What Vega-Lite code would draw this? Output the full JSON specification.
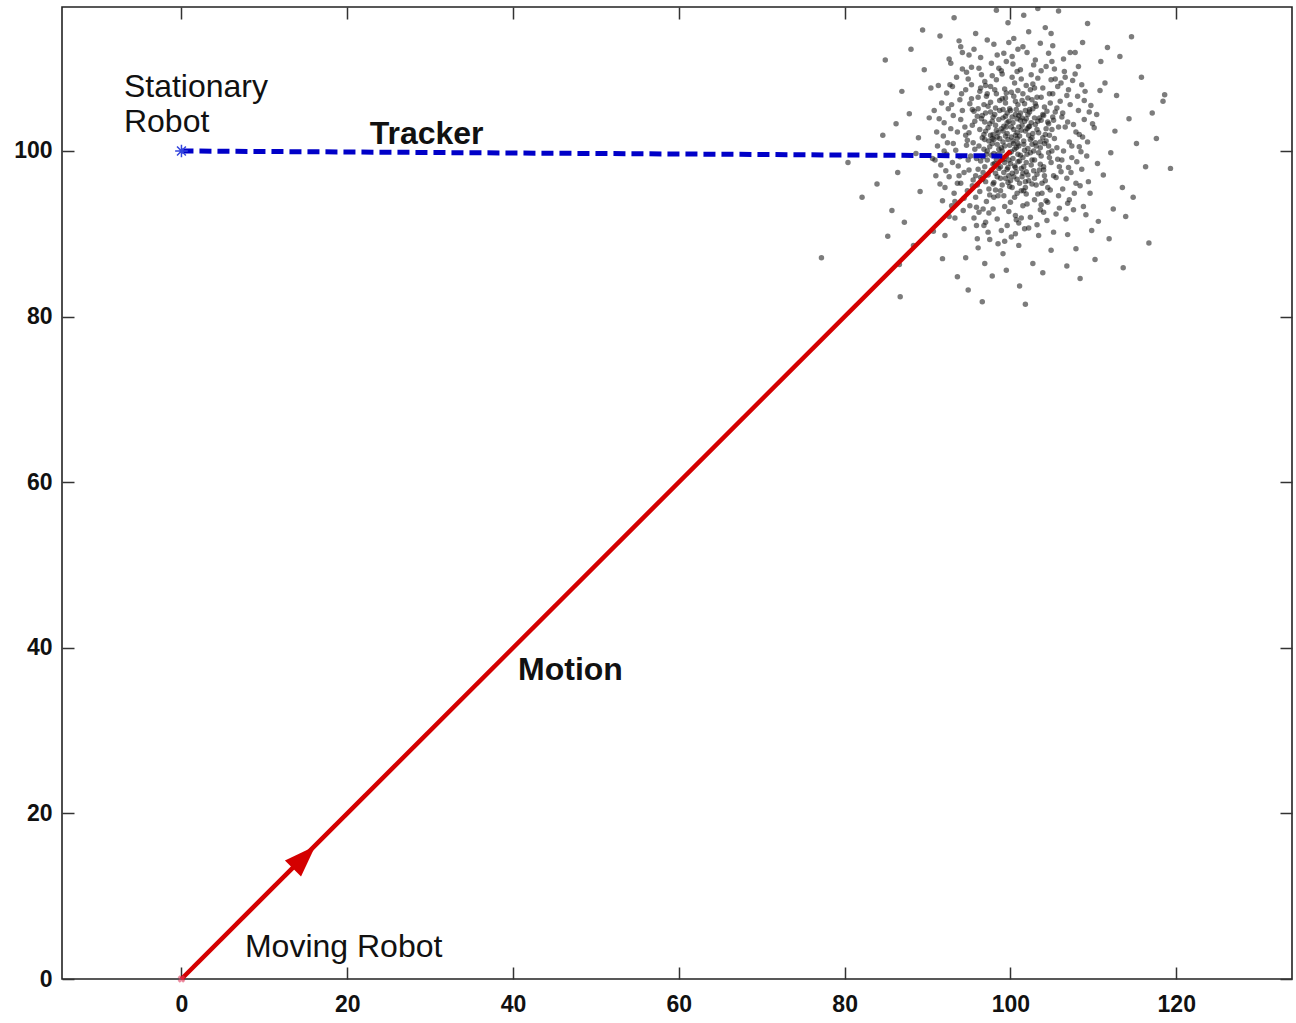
{
  "$schema": "https://vega.github.io/schema/vega-lite/v6.json",
  "width": 1230,
  "height": 972,
  "autosize": {"type": "none"},
  "padding": {"left": 62, "top": 7, "right": 4, "bottom": 44},
  "background": "white",
  "config": {
    "view": {"stroke": "#222", "strokeWidth": 1.6},
    "axis": {
      "domain": false, "grid": false, "ticks": true, "tickSize": -12, "tickColor": "#333", "tickWidth": 1.5,
      "labelFont": "Liberation Sans", "labelFontSize": 23, "labelFontWeight": "bold", "labelColor": "#111", "title": null
    },
    "text": {"font": "Liberation Sans", "fontSize": 32, "color": "#111", "align": "left", "baseline": "alphabetic"}
  },
  "resolve": {"axis": {"x": "independent", "y": "independent"}},
  "layer": [
    {
      "data": {"values": [
        {"x":100.3,"y":101.2},{"x":99.1,"y":102.4},{"x":101.7,"y":100.1},{"x":98.4,"y":100.8},{"x":102.2,"y":102.9},{"x":100.9,"y":98.7},{"x":97.6,"y":101.9},{"x":99.8,"y":103.6},{"x":101.4,"y":103.1},{"x":103.1,"y":100.6},
        {"x":98.9,"y":99.3},{"x":100.1,"y":99.9},{"x":102.6,"y":98.9},{"x":97.9,"y":98.4},{"x":99.4,"y":104.2},{"x":101.1,"y":101.8},{"x":103.4,"y":102.2},{"x":98.2,"y":103.1},{"x":100.6,"y":104.4},{"x":96.8,"y":100.2},
        {"x":102.9,"y":104.0},{"x":99.6,"y":97.8},{"x":101.9,"y":97.5},{"x":97.3,"y":102.8},{"x":100.4,"y":102.6},{"x":98.7,"y":101.5},{"x":103.7,"y":99.4},{"x":99.9,"y":100.7},{"x":101.5,"y":99.2},{"x":97.1,"y":99.6},
        {"x":102.4,"y":101.4},{"x":98.6,"y":97.9},{"x":100.8,"y":103.9},{"x":96.9,"y":103.5},{"x":103.9,"y":101.6},{"x":99.3,"y":98.6},{"x":101.2,"y":104.6},{"x":98.1,"y":104.4},{"x":102.8,"y":97.6},{"x":100.2,"y":97.3},
        {"x":97.7,"y":97.7},{"x":103.3,"y":103.6},{"x":99.0,"y":100.0},{"x":101.8,"y":102.4},{"x":98.5,"y":102.2},{"x":100.7,"y":100.4},{"x":102.1,"y":100.3},{"x":99.7,"y":101.4},{"x":101.3,"y":97.9},{"x":97.4,"y":101.2},
        {"x":104.1,"y":100.9},{"x":100.0,"y":104.9},{"x":98.3,"y":99.0},{"x":102.5,"y":103.4},{"x":99.5,"y":99.4},{"x":101.0,"y":102.9},{"x":97.9,"y":104.1},{"x":103.6,"y":98.4},{"x":100.5,"y":98.2},{"x":96.6,"y":101.6},
        {"x":99.2,"y":103.0},{"x":102.0,"y":99.6},{"x":98.8,"y":98.1},{"x":101.6,"y":101.2},{"x":100.9,"y":100.9},{"x":97.5,"y":100.5},{"x":103.0,"y":101.0},{"x":99.6,"y":102.1},{"x":101.4,"y":104.0},{"x":98.0,"y":101.4},
        {"x":102.7,"y":102.1},{"x":100.3,"y":99.1},{"x":99.8,"y":98.9},{"x":96.4,"y":98.8},{"x":104.3,"y":102.7},{"x":101.9,"y":98.6},{"x":98.4,"y":96.9},{"x":100.8,"y":96.6},{"x":103.2,"y":97.2},{"x":97.0,"y":104.6},
        {"x":102.3,"y":104.7},{"x":99.1,"y":105.0},{"x":96.7,"y":97.4},{"x":104.0,"y":104.3},{"x":100.1,"y":101.7},{"x":101.7,"y":103.6},{"x":98.9,"y":100.4},{"x":102.6,"y":100.8},{"x":99.4,"y":96.7},{"x":97.8,"y":103.6},
        {"x":100.6,"y":101.9},{"x":99.3,"y":100.6},{"x":101.2,"y":99.5},{"x":98.6,"y":103.8},{"x":102.4,"y":99.8},{"x":97.8,"y":100.9},{"x":100.9,"y":105.6},{"x":99.7,"y":96.2},{"x":103.6,"y":101.1},{"x":96.3,"y":102.6},
        {"x":101.8,"y":104.9},{"x":98.2,"y":97.3},{"x":104.6,"y":103.3},{"x":95.7,"y":100.2},{"x":100.2,"y":95.6},{"x":102.9,"y":96.7},{"x":97.2,"y":98.9},{"x":99.0,"y":106.3},{"x":104.9,"y":98.6},{"x":96.1,"y":97.8},
        {"x":101.5,"y":106.9},{"x":98.8,"y":95.2},{"x":103.1,"y":105.4},{"x":95.4,"y":103.1},{"x":100.5,"y":100.2},{"x":102.2,"y":101.9},{"x":99.4,"y":101.8},{"x":97.5,"y":103.3},{"x":101.1,"y":96.1},{"x":105.3,"y":101.5},
        {"x":96.8,"y":105.6},{"x":103.8,"y":96.1},{"x":99.9,"y":105.1},{"x":94.9,"y":98.9},{"x":102.6,"y":106.2},{"x":98.0,"y":99.7},{"x":100.7,"y":97.5},{"x":104.4,"y":104.8},{"x":97.0,"y":96.3},{"x":101.6,"y":98.1},
        {"x":99.2,"y":99.0},{"x":95.6,"y":104.8},{"x":103.4,"y":99.8},{"x":100.1,"y":107.1},{"x":98.5,"y":94.6},{"x":105.8,"y":102.9},{"x":96.9,"y":101.4},{"x":102.1,"y":97.1},{"x":99.6,"y":104.6},{"x":101.3,"y":102.5},
        {"x":97.6,"y":105.9},{"x":104.1,"y":97.0},{"x":100.4,"y":96.9},{"x":95.9,"y":99.1},{"x":103.0,"y":103.2},{"x":98.3,"y":106.9},{"x":101.9,"y":94.8},{"x":96.5,"y":103.9},{"x":105.1,"y":104.1},{"x":99.5,"y":102.9},
        {"x":102.8,"y":100.0},{"x":97.3,"y":97.1},{"x":100.8,"y":102.2},{"x":94.6,"y":101.9},{"x":103.7,"y":106.5},{"x":98.9,"y":102.7},{"x":101.0,"y":100.6},{"x":96.0,"y":95.9},{"x":104.7,"y":99.2},{"x":99.8,"y":97.0},
        {"x":102.3,"y":103.0},{"x":97.9,"y":102.0},{"x":100.0,"y":98.5},{"x":105.5,"y":96.8},{"x":95.3,"y":106.3},{"x":101.7,"y":105.7},{"x":98.1,"y":98.5},{"x":103.3,"y":94.8},{"x":99.1,"y":101.1},{"x":96.2,"y":100.6},
        {"x":102.5,"y":98.3},{"x":100.3,"y":103.4},{"x":97.4,"y":95.4},{"x":104.2,"y":102.0},{"x":98.7,"y":104.9},{"x":101.4,"y":96.9},{"x":95.0,"y":102.2},{"x":103.9,"y":104.4},{"x":100.6,"y":106.0},{"x":99.0,"y":95.9},
        {"x":102.0,"y":102.7},{"x":96.7,"y":99.3},{"x":105.0,"y":100.0},{"x":98.4,"y":101.7},{"x":101.2,"y":103.7},{"x":97.1,"y":106.6},{"x":103.5,"y":97.7},{"x":100.9,"y":99.6},{"x":99.3,"y":107.5},{"x":94.4,"y":97.4},
        {"x":102.7,"y":105.1},{"x":98.0,"y":96.2},{"x":101.6,"y":100.8},{"x":96.6,"y":104.3},{"x":104.5,"y":95.6},{"x":100.2,"y":104.1},{"x":97.7,"y":99.5},{"x":103.2,"y":102.6},{"x":99.7,"y":98.0},{"x":101.8,"y":95.6},
        {"x":95.8,"y":97.0},{"x":102.4,"y":107.4},{"x":98.6,"y":100.2},{"x":100.5,"y":94.4},{"x":104.8,"y":105.8},{"x":97.0,"y":102.4},{"x":101.1,"y":98.8},{"x":99.4,"y":105.8},{"x":96.4,"y":96.8},{"x":103.6,"y":100.4},
        {"x":100.8,"y":101.5},{"x":98.2,"y":105.2},{"x":102.1,"y":104.4},{"x":95.5,"y":101.0},{"x":104.0,"y":98.1},{"x":99.9,"y":99.8},{"x":101.5,"y":97.3},{"x":97.6,"y":104.7},{"x":100.1,"y":102.9},{"x":103.1,"y":95.9},
        {"x":98.5,"y":99.6},{"x":102.6,"y":101.6},{"x":96.9,"y":98.1},{"x":100.7,"y":105.0},{"x":99.2,"y":97.4},{"x":104.3,"y":101.2},{"x":97.2,"y":100.0},{"x":101.9,"y":103.9},{"x":98.8,"y":96.7},{"x":102.9,"y":98.9},
        {"x":100.4,"y":100.9},{"x":96.1,"y":105.1},{"x":103.7,"y":103.7},{"x":99.6,"y":103.4},{"x":101.3,"y":95.2},{"x":97.8,"y":101.5},{"x":105.2,"y":103.7},{"x":100.0,"y":96.4},{"x":98.3,"y":102.5},{"x":102.2,"y":96.4},
        {"x":99.1,"y":104.0},{"x":101.0,"y":104.3},{"x":96.8,"y":102.0},{"x":104.6,"y":100.6},{"x":100.6,"y":98.0},
        {"x":94.8,"y":101.3},{"x":105.6,"y":100.4},{"x":100.9,"y":107.3},{"x":99.2,"y":94.6},{"x":106.2,"y":104.1},{"x":93.7,"y":98.2},{"x":96.1,"y":106.5},{"x":104.8,"y":95.3},{"x":102.7,"y":108.1},{"x":95.4,"y":95.8},
        {"x":107.4,"y":99.2},{"x":92.8,"y":102.7},{"x":98.3,"y":108.6},{"x":105.1,"y":106.9},{"x":101.5,"y":93.4},{"x":94.2,"y":104.9},{"x":106.8,"y":96.7},{"x":97.1,"y":93.9},{"x":103.9,"y":107.6},{"x":93.4,"y":100.1},
        {"x":107.9,"y":102.3},{"x":100.2,"y":108.9},{"x":95.9,"y":93.2},{"x":104.5,"y":93.8},{"x":92.6,"y":96.9},{"x":108.3,"y":100.5},{"x":97.6,"y":107.8},{"x":106.1,"y":108.2},{"x":99.8,"y":92.7},{"x":94.6,"y":107.4},
        {"x":105.9,"y":98.1},{"x":102.1,"y":106.4},{"x":96.3,"y":95.1},{"x":93.1,"y":104.3},{"x":107.2,"y":105.6},{"x":98.7,"y":106.1},{"x":104.2,"y":96.4},{"x":95.2,"y":99.4},{"x":101.6,"y":95.2},{"x":106.6,"y":102.9},
        {"x":94.0,"y":96.1},{"x":103.3,"y":108.8},{"x":97.4,"y":92.5},{"x":108.6,"y":97.8},{"x":92.3,"y":99.6},{"x":105.4,"y":104.7},{"x":99.5,"y":107.0},{"x":95.7,"y":103.6},{"x":102.9,"y":94.1},{"x":107.0,"y":107.4},
        {"x":93.9,"y":106.2},{"x":100.6,"y":92.2},{"x":96.9,"y":108.4},{"x":104.7,"y":101.9},{"x":91.9,"y":101.8},{"x":108.9,"y":103.8},{"x":98.0,"y":94.4},{"x":105.8,"y":94.6},{"x":94.4,"y":94.3},{"x":101.9,"y":107.9},
        {"x":106.4,"y":100.0},{"x":97.2,"y":106.9},{"x":103.6,"y":92.9},{"x":92.5,"y":105.1},{"x":107.7,"y":94.9},{"x":99.0,"y":109.3},{"x":95.0,"y":97.7},{"x":104.9,"y":108.6},{"x":93.2,"y":94.9},{"x":102.4,"y":92.0},
        {"x":108.1,"y":106.6},{"x":96.5,"y":109.2},{"x":105.2,"y":97.0},{"x":91.6,"y":98.3},{"x":100.4,"y":106.6},{"x":94.9,"y":108.7},{"x":106.9,"y":93.7},{"x":98.4,"y":91.8},{"x":103.0,"y":105.7},{"x":93.6,"y":102.3},
        {"x":109.2,"y":99.4},{"x":101.2,"y":109.8},{"x":95.6,"y":91.9},{"x":107.5,"y":108.5},{"x":97.9,"y":96.0},{"x":105.0,"y":102.6},{"x":92.1,"y":95.6},{"x":102.6,"y":96.0},{"x":96.0,"y":104.2},{"x":108.4,"y":95.8},
        {"x":99.3,"y":93.3},{"x":104.1,"y":105.3},{"x":94.3,"y":92.8},{"x":106.0,"y":106.0},{"x":100.8,"y":94.9},{"x":93.0,"y":107.8},{"x":107.1,"y":101.1},{"x":97.0,"y":91.4},{"x":103.7,"y":109.7},{"x":91.4,"y":103.9},
        {"x":105.5,"y":92.4},{"x":98.6,"y":110.0},{"x":94.7,"y":100.7},{"x":109.5,"y":104.7},{"x":101.0,"y":91.3},{"x":96.6,"y":96.6},{"x":106.5,"y":109.6},{"x":92.9,"y":93.4},{"x":102.3,"y":105.0},{"x":108.0,"y":98.7},
        {"x":95.3,"y":110.1},{"x":104.4,"y":91.6},{"x":99.9,"y":95.7},{"x":91.2,"y":100.6},{"x":106.3,"y":95.4},{"x":97.3,"y":105.4},{"x":103.5,"y":104.0},{"x":94.1,"y":106.9},{"x":108.7,"y":101.7},{"x":100.3,"y":110.5},
        {"x":96.2,"y":92.6},{"x":105.3,"y":109.9},{"x":92.2,"y":97.6},{"x":102.0,"y":93.6},{"x":107.3,"y":97.4},{"x":98.1,"y":107.4},{"x":93.5,"y":108.9},{"x":104.6,"y":99.8},{"x":95.8,"y":94.4},{"x":109.0,"y":107.2},
        {"x":101.4,"y":106.1},{"x":97.7,"y":110.6},{"x":106.7,"y":91.8},{"x":91.7,"y":105.8},{"x":103.2,"y":91.1},{"x":99.6,"y":91.0},{"x":94.5,"y":102.9},{"x":108.2,"y":104.9},{"x":96.4,"y":107.6},{"x":105.7,"y":107.8},
        {"x":92.4,"y":101.0},{"x":101.8,"y":96.3},{"x":107.6,"y":92.9},{"x":98.2,"y":95.3},{"x":93.8,"y":97.0},{"x":104.3,"y":110.2},{"x":100.0,"y":93.8},{"x":95.1,"y":105.7},{"x":106.9,"y":103.5},{"x":102.8,"y":110.4},
        {"x":97.5,"y":94.7},{"x":109.4,"y":96.3},{"x":91.0,"y":97.0},{"x":103.8,"y":94.9},{"x":99.4,"y":106.4},{"x":94.2,"y":109.9},{"x":105.6,"y":105.2},{"x":101.3,"y":108.7},{"x":96.8,"y":91.0},{"x":107.8,"y":109.3},
        {"x":92.7,"y":108.0},{"x":104.0,"y":97.7},{"x":98.9,"y":109.7},{"x":93.3,"y":93.9},{"x":106.2,"y":98.9},{"x":100.7,"y":91.7},{"x":95.5,"y":96.5},{"x":108.8,"y":93.3},
        {"x":93.1,"y":100.9},{"x":107.6,"y":103.2},{"x":99.5,"y":110.8},{"x":101.3,"y":91.9},{"x":94.8,"y":95.2},{"x":106.1,"y":97.5},{"x":97.8,"y":109.1},{"x":104.0,"y":92.6},{"x":92.0,"y":103.4},{"x":108.5,"y":99.9},
        {"x":96.4,"y":111.3},{"x":103.0,"y":111.0},{"x":95.1,"y":93.4},{"x":106.8,"y":106.7},{"x":98.9,"y":90.4},{"x":91.5,"y":96.0},{"x":109.3,"y":101.1},{"x":100.8,"y":109.6},{"x":93.3,"y":91.9},{"x":105.9,"y":93.1},
        {"x":97.3,"y":90.2},{"x":107.9,"y":96.1},{"x":94.7,"y":109.5},{"x":102.5,"y":109.2},{"x":91.1,"y":102.3},{"x":109.7,"y":105.5},{"x":99.2,"y":111.8},{"x":104.7,"y":106.9},{"x":93.9,"y":99.3},{"x":106.4,"y":111.1},
        {"x":96.7,"y":93.0},{"x":103.4,"y":89.8},{"x":92.3,"y":107.0},{"x":108.6,"y":108.0},{"x":100.1,"y":89.6},{"x":95.6,"y":112.3},{"x":105.2,"y":90.2},{"x":90.6,"y":99.1},{"x":110.1,"y":102.8},{"x":98.0,"y":112.9},
        {"x":102.9,"y":107.6},{"x":94.0,"y":103.8},{"x":107.1,"y":94.1},{"x":97.5,"y":89.3},{"x":104.6,"y":111.8},{"x":92.8,"y":110.6},{"x":109.6,"y":94.9},{"x":101.7,"y":90.6},{"x":95.3,"y":108.0},{"x":106.3,"y":104.6},
        {"x":93.6,"y":96.1},{"x":108.2,"y":110.2},{"x":99.8,"y":113.1},{"x":103.7,"y":93.5},{"x":91.8,"y":94.0},{"x":107.4,"y":100.6},{"x":96.2,"y":110.0},{"x":102.0,"y":111.9},{"x":94.4,"y":90.6},{"x":105.4,"y":108.7},
        {"x":98.5,"y":88.8},{"x":110.5,"y":98.5},{"x":100.5,"y":108.2},{"x":92.9,"y":105.6},{"x":106.9,"y":89.9},{"x":97.0,"y":107.9},{"x":104.3,"y":94.0},{"x":93.0,"y":98.6},{"x":108.9,"y":106.1},{"x":101.5,"y":112.6},
        {"x":95.9,"y":91.0},{"x":105.7,"y":99.0},{"x":90.8,"y":104.9},{"x":103.6,"y":113.0},{"x":99.3,"y":89.1},{"x":107.8,"y":111.9},{"x":94.2,"y":111.9},{"x":102.2,"y":90.7},{"x":109.9,"y":103.3},{"x":96.3,"y":107.2},
        {"x":105.0,"y":110.8},{"x":92.6,"y":92.1},{"x":100.2,"y":111.4},{"x":107.0,"y":98.0},{"x":97.9,"y":93.0},{"x":104.5,"y":103.5},{"x":91.3,"y":107.9},{"x":109.1,"y":92.3},{"x":101.0,"y":88.6},{"x":95.4,"y":105.0},
        {"x":106.6,"y":108.9},{"x":93.8,"y":113.3},{"x":103.2,"y":106.5},{"x":98.4,"y":111.6},{"x":108.3,"y":102.0},{"x":96.0,"y":89.4},{"x":104.9,"y":114.2},{"x":92.0,"y":100.0},{"x":110.8,"y":107.3},{"x":100.6,"y":90.0},
        {"x":88.9,"y":101.6},{"x":112.1,"y":99.8},{"x":100.4,"y":113.6},{"x":99.1,"y":87.6},{"x":89.6,"y":109.8},{"x":111.4,"y":108.2},{"x":90.7,"y":90.3},{"x":110.6,"y":91.5},{"x":86.4,"y":97.4},{"x":114.3,"y":103.9},
        {"x":104.2,"y":114.9},{"x":95.8,"y":114.2},{"x":102.7,"y":86.4},{"x":94.6,"y":87.1},{"x":87.8,"y":104.5},{"x":113.5,"y":95.6},{"x":108.7,"y":113.1},{"x":91.5,"y":113.9},{"x":107.9,"y":88.2},{"x":85.7,"y":92.8},
        {"x":115.2,"y":100.9},{"x":101.6,"y":116.4},{"x":97.8,"y":84.9},{"x":89.1,"y":95.1},{"x":112.8,"y":106.7},{"x":93.2,"y":116.1},{"x":110.2,"y":86.9},{"x":86.9,"y":107.2},{"x":116.3,"y":98.1},{"x":105.8,"y":116.9},
        {"x":96.1,"y":88.3},{"x":111.7,"y":112.5},{"x":88.3,"y":88.6},{"x":90.2,"y":104.0},{"x":113.9,"y":92.1},{"x":99.7,"y":115.5},{"x":103.9,"y":85.3},{"x":84.6,"y":101.9},{"x":117.1,"y":104.6},{"x":92.1,"y":89.8},
        {"x":109.3,"y":115.4},{"x":88.0,"y":112.3},{"x":111.9,"y":89.4},{"x":94.0,"y":112.6},{"x":106.8,"y":86.1},{"x":83.9,"y":96.0},{"x":115.8,"y":108.9},{"x":98.3,"y":117.0},{"x":101.1,"y":83.7},{"x":87.2,"y":91.4},
        {"x":112.6,"y":102.4},{"x":90.9,"y":98.9},{"x":110.9,"y":110.8},{"x":96.9,"y":86.4},{"x":105.1,"y":112.7},{"x":86.2,"y":103.3},{"x":114.8,"y":94.4},{"x":100.9,"y":112.3},{"x":93.6,"y":84.8},{"x":108.4,"y":84.6},
        {"x":89.4,"y":114.6},{"x":117.6,"y":101.5},{"x":103.3,"y":117.2},{"x":85.2,"y":89.7},{"x":111.2,"y":97.1},{"x":95.0,"y":111.6},{"x":107.2,"y":111.9},{"x":91.8,"y":87.0},{"x":113.2,"y":111.4},{"x":99.5,"y":85.6},
        {"x":88.6,"y":99.7},{"x":110.4,"y":104.4},{"x":97.2,"y":113.4},{"x":104.9,"y":88.0},{"x":82.1,"y":94.4},{"x":118.4,"y":106.0},{"x":92.6,"y":111.1},{"x":109.8,"y":90.4},{"x":86.6,"y":86.3},{"x":114.6,"y":113.8},
        {"x":102.2,"y":114.4},{"x":94.9,"y":83.2},{"x":90.4,"y":107.6},{"x":112.4,"y":93.0},{"x":77.2,"y":87.1},{"x":96.6,"y":81.8},{"x":101.8,"y":81.5},{"x":119.3,"y":97.9},{"x":105.5,"y":118.3},{"x":80.4,"y":98.6},
        {"x":116.7,"y":88.9},{"x":99.0,"y":118.6},{"x":108.1,"y":117.8},{"x":84.9,"y":111.0},{"x":113.6,"y":85.9},{"x":86.7,"y":82.4},{"x":118.6,"y":106.8}
      ]},
      "mark": {"type": "point", "filled": true, "size": 30, "color": "#111", "opacity": 0.55, "clip": true},
      "encoding": {
        "x": {"field": "x", "type": "quantitative", "scale": {"domain": [-14.41, 133.96], "nice": false, "zero": false},
              "axis": {"orient": "bottom", "values": [0, 20, 40, 60, 80, 100, 120], "labelPadding": 26}},
        "y": {"field": "y", "type": "quantitative", "scale": {"domain": [0, 117.39], "nice": false, "zero": false},
              "axis": {"orient": "left", "values": [0, 20, 40, 60, 80, 100], "labelPadding": 22}}
      }
    },
    {
      "data": {"values": [{"x": 0, "y": 0}, {"x": 100, "y": 100}]},
      "mark": {"type": "line", "color": "#d40000", "strokeWidth": 4.5},
      "encoding": {
        "x": {"field": "x", "type": "quantitative", "axis": {"orient": "top", "values": [0, 20, 40, 60, 80, 100, 120], "labels": false}},
        "y": {"field": "y", "type": "quantitative", "axis": {"orient": "right", "values": [0, 20, 40, 60, 80, 100], "labels": false}}
      }
    },
    {
      "data": {"values": [{"x": 0, "y": 100}, {"x": 99, "y": 99.4}]},
      "mark": {"type": "line", "color": "#0000c8", "strokeWidth": 5, "strokeDash": [12, 6]},
      "encoding": {
        "x": {"field": "x", "type": "quantitative", "axis": null},
        "y": {"field": "y", "type": "quantitative", "axis": null}
      }
    },
    {
      "data": {"values": [{"x": 14.8, "y": 14.7}]},
      "mark": {"type": "point", "shape": "M0,-1L-0.72,1L0.72,1Z", "filled": true, "color": "#d40000", "opacity": 1, "size": 1000, "angle": 45},
      "encoding": {
        "x": {"field": "x", "type": "quantitative", "axis": null},
        "y": {"field": "y", "type": "quantitative", "axis": null}
      }
    },
    {
      "data": {"values": [{"x": 0, "y": 100}]},
      "mark": {"type": "point", "shape": "M-1,0L1,0M0,-1L0,1M-0.7,-0.7L0.7,0.7M-0.7,0.7L0.7,-0.7", "filled": false, "color": "#3344dd", "opacity": 1, "size": 160, "strokeWidth": 1.5},
      "encoding": {
        "x": {"field": "x", "type": "quantitative", "axis": null},
        "y": {"field": "y", "type": "quantitative", "axis": null}
      }
    },
    {
      "data": {"values": [{"x": 0, "y": 0}]},
      "mark": {"type": "point", "shape": "cross", "filled": true, "color": "#e04060", "opacity": 0.6, "size": 60, "angle": 45},
      "encoding": {
        "x": {"field": "x", "type": "quantitative", "axis": null},
        "y": {"field": "y", "type": "quantitative", "axis": null}
      }
    },
    {
      "data": {"values": [
        {"x": -6.94, "y": 106.5, "label": "Stationary"},
        {"x": -6.94, "y": 102.3, "label": "Robot"},
        {"x": 7.66, "y": 2.7, "label": "Moving Robot"}
      ]},
      "mark": {"type": "text", "fontWeight": "normal"},
      "encoding": {
        "x": {"field": "x", "type": "quantitative", "axis": null},
        "y": {"field": "y", "type": "quantitative", "axis": null},
        "text": {"field": "label"}
      }
    },
    {
      "data": {"values": [
        {"x": 22.7, "y": 100.9, "label": "Tracker"},
        {"x": 40.6, "y": 36.1, "label": "Motion"}
      ]},
      "mark": {"type": "text", "fontWeight": "bold"},
      "encoding": {
        "x": {"field": "x", "type": "quantitative", "axis": null},
        "y": {"field": "y", "type": "quantitative", "axis": null},
        "text": {"field": "label"}
      }
    }
  ]
}
